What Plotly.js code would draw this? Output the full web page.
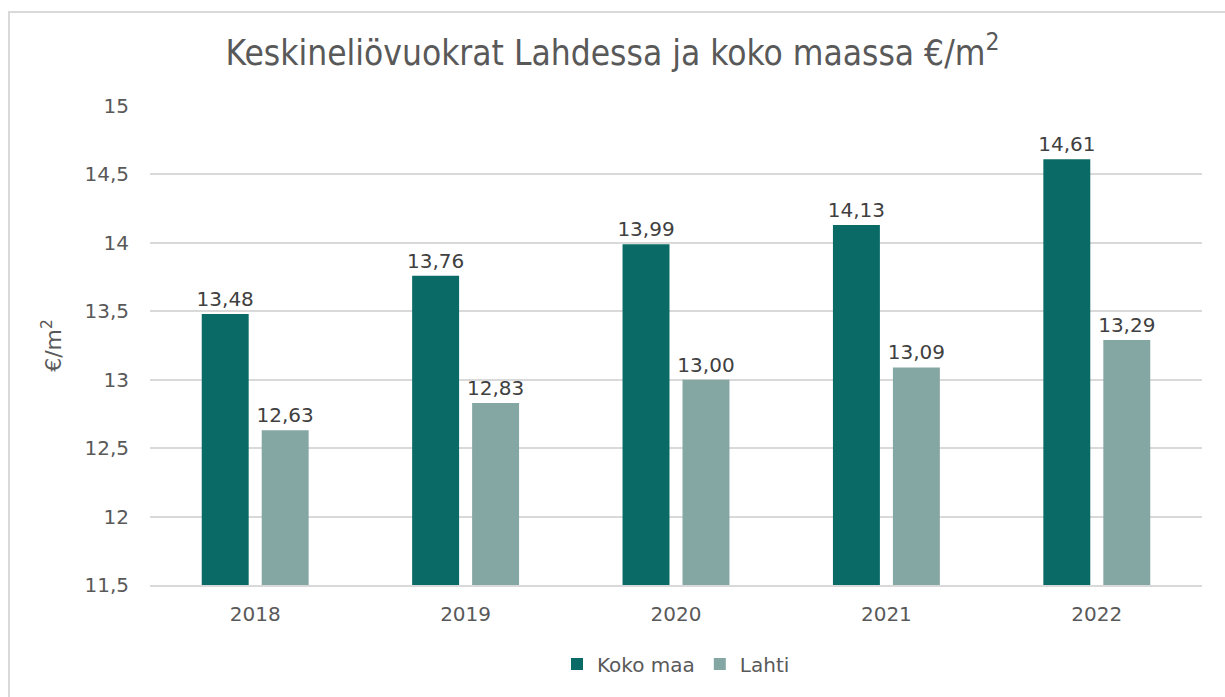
<!DOCTYPE html>
<html>
<head>
<meta charset="utf-8">
<script src="https://cdn.plot.ly/plotly-3.0.1.min.js"></script>
<style>
  html, body { margin: 0; padding: 0; background: #fff; overflow: hidden; }
  #plot { position: absolute; left: 0; top: 0; width: 1225px; height: 697px; }
  #frame { position: absolute; left: 8px; top: 11px; width: 1300px; height: 800px;
           border-left: 2px solid #d9d9d9; border-top: 2px solid #d9d9d9; pointer-events: none; }
</style>
</head>
<body>
<div id="plot"></div>
<div id="frame"></div>
<script>
var years = ['2018', '2019', '2020', '2021', '2022'];
var kokoMaa = [13.48, 13.76, 13.99, 14.13, 14.61];
var lahti = [12.63, 12.83, 13.00, 13.09, 13.29];

var labelFont = {family: 'DejaVu Sans, sans-serif', size: 20, color: '#404040'};

var trace1 = {
  x: years,
  y: kokoMaa,
  type: 'bar',
  name: 'Koko maa',
  marker: {color: '#0a6b66'},
  texttemplate: '%{y:.2f}',
  textposition: 'outside',
  constraintext: 'none',
  textfont: labelFont,
  cliponaxis: false,
  hoverinfo: 'none'
};

var trace2 = {
  x: years,
  y: lahti,
  type: 'bar',
  name: 'Lahti',
  marker: {color: '#85a7a4'},
  texttemplate: '%{y:.2f}',
  textposition: 'outside',
  constraintext: 'none',
  textfont: labelFont,
  cliponaxis: false,
  hoverinfo: 'none'
};

var layout = {
  width: 1225,
  height: 697,
  margin: {l: 150, r: 23, t: 106, b: 112},
  paper_bgcolor: 'rgba(0,0,0,0)',
  plot_bgcolor: '#fff',
  separators: ', ',
  barmode: 'group',
  bargap: 0.43,
  bargroupgap: 0.217,
  font: {family: 'DejaVu Sans, sans-serif', color: '#595959'},
  title: {
    text: 'Keskineliövuokrat Lahdessa ja koko maassa €/m<sup>2</sup>',
    font: {family: 'DejaVu Sans Condensed, Liberation Sans Narrow, Liberation Sans, sans-serif', size: 35, color: '#595959'},
    x: 0.5, xanchor: 'center',
    y: 0.925, yanchor: 'middle'
  },
  xaxis: {
    type: 'category',
    showgrid: false,
    showline: true,
    linecolor: '#d9d9d9',
    linewidth: 2,
    ticks: '',
    tickfont: {size: 20, color: '#595959'},
    ticklabelstandoff: 10
  },
  yaxis: {
    range: [11.5, 15],
    dtick: 0.5,
    tick0: 11.5,
    showgrid: true,
    gridcolor: '#d9d9d9',
    gridwidth: 2,
    zeroline: false,
    showline: false,
    ticks: '',
    tickfont: {size: 20, color: '#595959'},
    ticklabelstandoff: 20,
    title: {text: '€/m<sup>2</sup>', font: {size: 22, color: '#595959'}, standoff: 16}
  },
  legend: {
    orientation: 'h',
    x: 0.5, xanchor: 'center',
    y: -0.165, yanchor: 'middle',
    font: {size: 20, color: '#595959'},
    itemwidth: 30,
    traceorder: 'normal'
  },
  showlegend: true
};

Plotly.newPlot('plot', [trace1, trace2], layout, {displayModeBar: false, staticPlot: true});
</script>
</body>
</html>
